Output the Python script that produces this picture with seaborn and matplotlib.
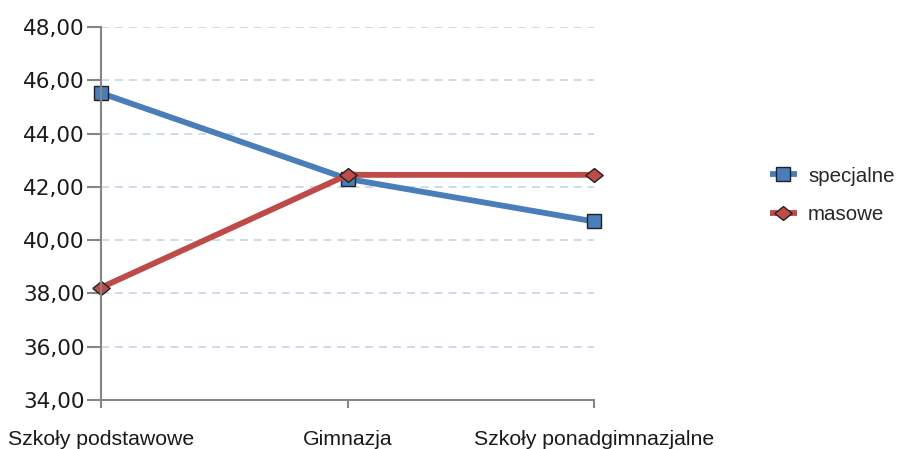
import pandas as pd
import seaborn as sns
import matplotlib.pyplot as plt
from matplotlib.ticker import FuncFormatter

categories = ["Szkoły podstawowe", "Gimnazja", "Szkoły ponadgimnazjalne"]
specjalne = [45.52, 42.30, 40.70]
masowe = [38.22, 42.45, 42.45]

data = pd.DataFrame({
    "szkola": categories * 2,
    "wynik": specjalne + masowe,
    "typ": ["specjalne"] * 3 + ["masowe"] * 3,
})

sns.set_theme(style="white")
plt.rcParams['font.family'] = ['Liberation Sans', 'DejaVu Sans']

fig = plt.figure(figsize=(9, 4.49), dpi=100)
ax = fig.add_axes([0.1122, 0.109, 0.548, 0.831])

palette = {"specjalne": "#4a7ebb", "masowe": "#be4b48"}
diamond = [(-1, 0), (0, 0.8), (1, 0), (0, -0.8), (-1, 0)]
sns.lineplot(data=data, x="szkola", y="wynik", hue="typ", style="typ",
             palette=palette, markers={"specjalne": "s", "masowe": diamond},
             dashes=False, linewidth=4.2, markersize=10,
             markeredgecolor="#222222", markeredgewidth=1.0, ax=ax)
for line in ax.lines:
    line.set_clip_on(False)
    if line.get_label() == "masowe" or list(line.get_ydata()) == masowe:
        line.set_markersize(12.5)

ax.set_xlim(0, 2)
ax.set_ylim(34, 48)
ax.set_yticks(range(34, 49, 2))
ax.yaxis.set_major_formatter(FuncFormatter(lambda v, p: f"{v:.2f}".replace(".", ",")))
for y in range(36, 49, 2):
    ax.axhline(y, color="#c6d9f1", linestyle=(0, (4.4, 3.3)), linewidth=1.3, zorder=0)

for s in ["top", "right"]:
    ax.spines[s].set_visible(False)
for s in ["left", "bottom"]:
    ax.spines[s].set_color("#868686")
    ax.spines[s].set_linewidth(1.5)

ax.tick_params(axis="y", direction="out", length=10, width=1.5, color="#868686",
               left=True, labelsize=15.5, pad=2, labelcolor="#1a1a1a")
ax.tick_params(axis="x", direction="out", length=6, width=1.5, color="#868686",
               bottom=True, labelsize=15.3, pad=15.5, labelcolor="#1a1a1a")
for t in ax.get_yticklabels():
    t.set_family("DejaVu Sans")
ax.set_xlabel("")
ax.set_ylabel("")

handles, labels = ax.get_legend_handles_labels()
for h in handles:
    h.set_solid_capstyle("butt")
    if h.get_label() == "masowe":
        h.set_markersize(12.5)
ax.legend_.remove()
fig.legend(handles, labels, loc="center left", bbox_to_anchor=(0.835, 0.565),
           frameon=False, fontsize=14.8, handlelength=1.3, labelspacing=0.95,
           handletextpad=0.55)

fig.savefig("out.png", dpi=100)
